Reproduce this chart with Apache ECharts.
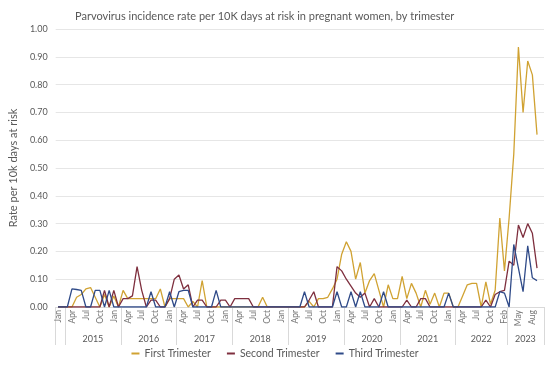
<!DOCTYPE html>
<html>
<head>
<meta charset="utf-8">
<script src="https://cdn.jsdelivr.net/npm/echarts@6/dist/echarts.min.js"></script>
<style>html,body{margin:0;padding:0;background:#fff}#c{width:550px;height:367px}</style>
</head>
<body>
<div id="c"></div>
<script>
// ---- Data ----
const monthNames = ['Jan','Feb','Mar','Apr','May','Jun','Jul','Aug','Sep','Oct','Nov','Dec'];
// month-label runs as they appear on the axis (start month index, number of categories)
const monthRuns = [[0, 95], [0, 10]];
// outer (year) level of the category axis
const yearLabels = ['', '2015', '2016', '2017', '2018', '2019', '2020', '2021', '2022', '2023'];
const yearSpans  = [2, 12, 12, 12, 12, 12, 12, 12, 11, 8];
const yTicks = [0, 1, 0.1]; // min, max, interval

const seriesNames = ['First Trimester', 'Second Trimester', 'Third Trimester'];

const firstTrimester = [
  0, 0, 0, 0, 0.035, 0.045, 0.065, 0.07, 0.035, 0, 0.045, 0,
  0.04, 0, 0.06, 0.03, 0.03, 0.03, 0.03, 0.03, 0.03, 0.03, 0.065, 0,
  0.03, 0.03, 0.03, 0.03, 0, 0.02, 0, 0.095, 0, 0, 0, 0,
  0, 0, 0, 0, 0, 0, 0, 0, 0.035, 0, 0, 0,
  0, 0, 0, 0, 0, 0, 0.02, 0, 0.03, 0.03, 0.035, 0.065,
  0.1, 0.19, 0.235, 0.2, 0.1, 0.16, 0.05, 0.095, 0.12, 0.06, 0, 0.08,
  0.03, 0.03, 0.11, 0.03, 0.085, 0.05, 0, 0.06, 0.01, 0.05, 0, 0.05,
  0.05, 0, 0, 0.04, 0.08, 0.085, 0.085, 0, 0.09, 0.01, 0.06, 0.32,
  0.13, 0.32, 0.55, 0.935, 0.70, 0.885, 0.835, 0.62
];
const secondTrimester = [
  0, 0, 0, 0, 0, 0, 0, 0, 0, 0, 0.06, 0,
  0.06, 0, 0.03, 0.03, 0.04, 0.145, 0.06, 0, 0.025, 0.025, 0, 0,
  0.03, 0.1, 0.115, 0.065, 0.08, 0, 0.025, 0.025, 0, 0, 0, 0.025,
  0.025, 0, 0.03, 0.03, 0.03, 0.03, 0, 0, 0, 0, 0, 0,
  0, 0, 0, 0, 0, 0, 0.025, 0.055, 0, 0, 0, 0,
  0.145, 0.13, 0.1, 0.075, 0.05, 0.035, 0.05, 0, 0.03, 0, 0, 0,
  0, 0, 0, 0.025, 0, 0, 0.03, 0.03, 0, 0, 0, 0,
  0, 0, 0, 0, 0, 0, 0, 0, 0.025, 0, 0.045, 0.055,
  0.06, 0.165, 0.15, 0.295, 0.25, 0.3, 0.265, 0.14
];
const thirdTrimester = [
  0, 0, 0, 0.065, 0.063, 0.06, 0, 0, 0.06, 0.06, 0, 0.06,
  0, 0, 0, 0, 0, 0, 0, 0, 0.055, 0, 0, 0,
  0.055, 0, 0.055, 0.06, 0.06, 0, 0, 0, 0, 0, 0.06, 0,
  0, 0, 0, 0, 0, 0, 0, 0, 0, 0, 0, 0,
  0, 0, 0, 0, 0, 0.055, 0, 0, 0, 0, 0, 0,
  0.055, 0, 0, 0.055, 0, 0.055, 0, 0, 0, 0, 0.055, 0,
  0, 0, 0, 0, 0, 0, 0, 0, 0, 0, 0, 0,
  0.05, 0, 0, 0, 0, 0, 0, 0, 0, 0, 0, 0.055,
  0.05, 0, 0.225, 0.14, 0.055, 0.22, 0.105, 0.095
];

// ---- Build axis tables ----
const categories = [];
monthRuns.forEach(([s, n]) => { for (let k = 0; k < n; k++) categories.push(monthNames[(s + k) % 12]); });
const halfPoints = [];
for (let i = 0; i <= categories.length * 2; i++) halfPoints.push('h' + i);
const boundaries = new Set([0]);
const centers = {};
let pos = 0;
yearSpans.forEach((s, k) => {
  const a = pos * 2, b = (pos + s) * 2;
  if (yearLabels[k]) centers[(a + b) / 2] = yearLabels[k];
  boundaries.add(b);
  pos += s;
});

const FONT = 'Lato';
const GREY = '#595959';
const chart = echarts.init(document.getElementById('c'), null, { renderer: 'canvas' });
chart.setOption({
  animation: false,
  textStyle: { fontFamily: FONT },
  color: ['#D0A232', '#7E2F3E', '#2F4A88'],
  title: {
    text: 'Parvovirus incidence rate per 10K days at risk in pregnant women, by trimester',
    left: 70, top: 6,
    textStyle: { fontFamily: FONT, fontSize: 11, fontWeight: 'normal', color: GREY }
  },
  legend: {
    bottom: 3, left: 'center',
    icon: 'rect', itemWidth: 8, itemHeight: 2, itemGap: 16,
    textStyle: { fontFamily: FONT, fontSize: 10.5, color: GREY },
    data: seriesNames
  },
  grid: { left: 48, right: 6, top: 29, bottom: 60 },
  xAxis: [
    {
      type: 'category', data: categories, boundaryGap: true,
      axisLine: { lineStyle: { color: '#d9d9d9' } },
      axisTick: { show: false },
      axisLabel: { interval: 2, rotate: 90, fontSize: 8.5, color: '#777', margin: 3, fontFamily: FONT }
    },
    {
      type: 'category', data: halfPoints, boundaryGap: false, position: 'bottom',
      axisLine: { show: false },
      axisTick: { show: true, length: 38, lineStyle: { color: '#d9d9d9' },
        interval: (idx) => boundaries.has(idx) },
      axisLabel: { interval: (idx) => centers[idx] !== undefined,
        formatter: (v, idx) => centers[idx] || '',
        fontSize: 9, color: GREY, margin: 28, fontFamily: FONT }
    }
  ],
  yAxis: {
    type: 'value', min: yTicks[0], max: yTicks[1], interval: yTicks[2],
    name: 'Rate per 10k days at risk', nameLocation: 'middle', nameGap: 21,
    nameTextStyle: { fontSize: 11, color: GREY, fontFamily: FONT },
    axisLine: { show: false }, axisTick: { show: false },
    axisLabel: { formatter: (v) => v.toFixed(2), fontSize: 9, color: GREY, margin: 8, fontFamily: FONT },
    splitLine: { lineStyle: { color: '#e6e6e6', width: 1 } }
  },
  series: [
    { name: seriesNames[0], type: 'line', data: firstTrimester, symbol: 'none', lineStyle: { width: 1.3 } },
    { name: seriesNames[1], type: 'line', data: secondTrimester, symbol: 'none', lineStyle: { width: 1.3 } },
    { name: seriesNames[2], type: 'line', data: thirdTrimester, symbol: 'none', lineStyle: { width: 1.3 } }
  ]
});
</script>
</body>
</html>
